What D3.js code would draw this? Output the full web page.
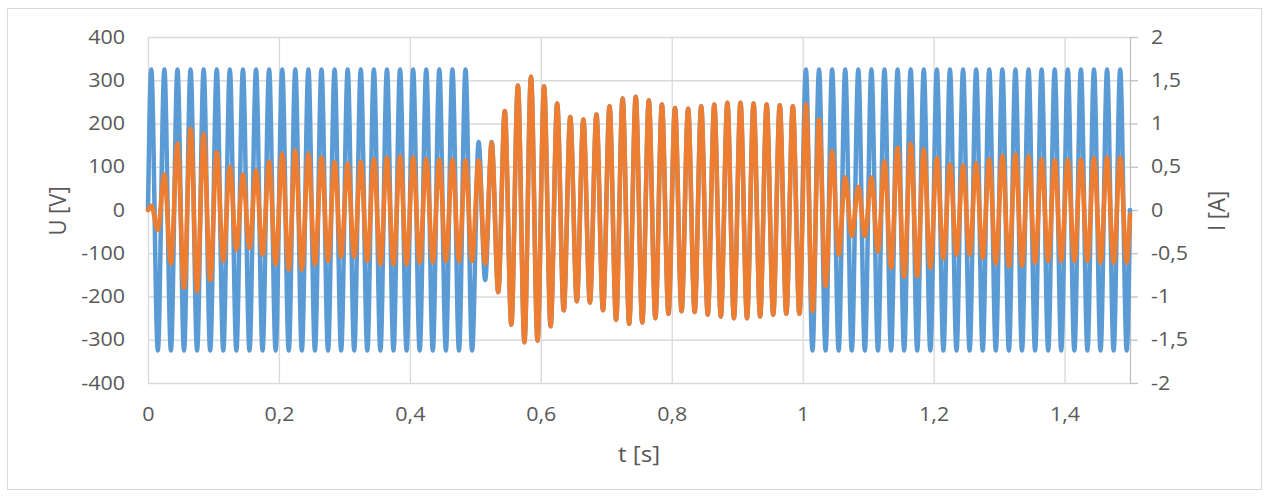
<!DOCTYPE html>
<html>
<head>
<meta charset="utf-8">
<script src="https://cdn.jsdelivr.net/npm/d3@7"></script>
<style>
  body { margin: 0; background: #ffffff; }
  text { font-family: "Open Sans", sans-serif; fill: #595959; }
</style>
</head>
<body>
<svg id="chart" width="1267" height="497"></svg>
<script>
// Axis ticks
const voltageTicks = [-400, -300, -200, -100, 0, 100, 200, 300, 400];
const currentTicks = [-2, -1.5, -1, -0.5, 0, 0.5, 1, 1.5, 2];
const timeTicks = [0, 0.2, 0.4, 0.6, 0.8, 1, 1.2, 1.4];

// Recorded waveforms: one extreme per half cycle of the 50 Hz supply,
// the first at 5 ms and then every 10 ms, plus the start and end samples.
const extremeStart = 0.005;
const extremeStep = 0.01;
const recordStart = 0;
const recordEnd = 1.5;

// Voltage U [V] at each extreme
const voltagePeaks = [
  325, -325, 325, -325, 325, -325, 325, -325, 325, -325,
  325, -325, 325, -325, 325, -325, 325, -325, 325, -325,
  325, -325, 325, -325, 325, -325, 325, -325, 325, -325,
  325, -325, 325, -325, 325, -325, 325, -325, 325, -325,
  325, -325, 325, -325, 325, -325, 325, -325, 325, -325,
  157, -162, 157, -190, 229, -265, 288, -306, 308, -302,
  286, -269, 246, -232, 215, -211, 209, -214, 221, -232,
  240, -254, 258, -263, 262, -260, 254, -250, 244, -240,
  236, -234, 234, -236, 240, -242, 244, -246, 248, -250,
  248, -250, 246, -246, 244, -242, 242, -240, 240, -240,
  325, -325, 325, -325, 325, -325, 325, -325, 325, -325,
  325, -325, 325, -325, 325, -325, 325, -325, 325, -325,
  325, -325, 325, -325, 325, -325, 325, -325, 325, -325,
  325, -325, 325, -325, 325, -325, 325, -325, 325, -325,
  325, -325, 325, -325, 325, -325, 325, -325, 325, -325
];
const voltageEnds = [0, 0];

// Current I [A] at each extreme
const currentPeaks = [
  0.05, -0.23, 0.41, -0.62, 0.77, -0.90, 0.94, -0.94, 0.875, -0.81,
  0.67, -0.59, 0.50, -0.46, 0.41, -0.44, 0.46, -0.52, 0.56, -0.63,
  0.65, -0.69, 0.69, -0.69, 0.65, -0.63, 0.61, -0.59, 0.555, -0.54,
  0.54, -0.54, 0.56, -0.59, 0.59, -0.63, 0.61, -0.63, 0.62, -0.63,
  0.61, -0.61, 0.59, -0.605, 0.585, -0.59, 0.585, -0.59, 0.575, -0.59,
  0.575, -0.62, 0.775, -0.95, 1.145, -1.325, 1.44, -1.53, 1.54, -1.51,
  1.43, -1.345, 1.23, -1.16, 1.075, -1.055, 1.045, -1.07, 1.105, -1.16,
  1.20, -1.27, 1.29, -1.315, 1.31, -1.30, 1.27, -1.25, 1.22, -1.20,
  1.18, -1.17, 1.17, -1.18, 1.20, -1.21, 1.22, -1.23, 1.24, -1.25,
  1.24, -1.25, 1.23, -1.23, 1.22, -1.21, 1.21, -1.20, 1.20, -1.20,
  1.22, -1.17, 1.045, -0.88, 0.68, -0.52, 0.375, -0.30, 0.265, -0.30,
  0.375, -0.48, 0.565, -0.67, 0.72, -0.77, 0.765, -0.765, 0.70, -0.67,
  0.605, -0.56, 0.53, -0.52, 0.515, -0.52, 0.54, -0.555, 0.59, -0.62,
  0.63, -0.65, 0.645, -0.645, 0.625, -0.61, 0.59, -0.59, 0.575, -0.59,
  0.58, -0.59, 0.585, -0.59, 0.60, -0.61, 0.61, -0.61, 0.61, -0.61
];
const currentEnds = [0, -0.05];

// Decimal comma, plain hyphen minus
const locale = d3.formatLocale({
  decimal: ",", thousands: ".", grouping: [3], currency: ["", ""], minus: "-"
});
const fmt = locale.format("~g");

const svg = d3.select("#chart");
const plot = { left: 148, right: 1130, top: 37, bottom: 383 };
const widen = 1.1; // slightly broad lettering

const x = d3.scaleLinear().domain([0, 1.5]).range([plot.left, plot.right]);
const yU = d3.scaleLinear().domain([-400, 400]).range([plot.bottom, plot.top]);
const yI = d3.scaleLinear().domain([-2, 2]).range([plot.bottom, plot.top]);

function styleLabels(g) {
  g.selectAll("text").each(function () {
    const t = d3.select(this);
    const x0 = +t.attr("x") || 0;
    t.attr("x", x0 / widen)
      .attr("transform", `scale(${widen},1)`)
      .attr("font-size", 19.5)
      .attr("fill", "#595959");
  });
}

// Chart frame
svg.append("rect")
  .attr("x", 7.5).attr("y", 8.5)
  .attr("width", 1254).attr("height", 481)
  .attr("fill", "#ffffff").attr("stroke", "#d9d9d9").attr("stroke-width", 1);

// Horizontal gridlines
svg.append("g")
  .attr("transform", `translate(${plot.left},0)`)
  .call(d3.axisLeft(yU).tickValues(voltageTicks).tickSize(-(plot.right - plot.left)).tickFormat(""))
  .call(g => g.select(".domain").remove())
  .call(g => g.selectAll("line").attr("stroke", "#d9d9d9").attr("stroke-width", 1.3));

// Vertical gridlines
svg.append("g")
  .attr("transform", `translate(0,${plot.bottom})`)
  .call(d3.axisBottom(x).tickValues(timeTicks).tickSize(-(plot.bottom - plot.top)).tickFormat(""))
  .call(g => g.select(".domain").remove())
  .call(g => g.selectAll("line").attr("stroke", "#d9d9d9").attr("stroke-width", 1.3));

// Left axis labels
svg.append("g")
  .attr("transform", `translate(${plot.left},0)`)
  .call(d3.axisLeft(yU).tickValues(voltageTicks).tickSize(0).tickPadding(23).tickFormat(fmt))
  .call(g => g.select(".domain").remove())
  .call(styleLabels);

// Right axis with outward ticks
svg.append("g")
  .attr("transform", `translate(${plot.right},0)`)
  .call(d3.axisRight(yI).tickValues(currentTicks).tickSize(8).tickSizeOuter(0).tickPadding(13).tickFormat(fmt))
  .call(g => g.select(".domain").attr("stroke", "#bfbfbf").attr("stroke-width", 1.3))
  .call(g => g.selectAll("line").attr("stroke", "#bfbfbf").attr("stroke-width", 1.3))
  .call(styleLabels);

// Bottom axis labels
svg.append("g")
  .attr("transform", `translate(0,${plot.bottom})`)
  .call(d3.axisBottom(x).tickValues(timeTicks).tickSize(0).tickPadding(24).tickFormat(fmt))
  .call(g => g.select(".domain").remove())
  .call(styleLabels);

// Series points
function series(peaks, ends) {
  const pts = [{ t: recordStart, v: ends[0] }];
  peaks.forEach((v, i) => pts.push({ t: extremeStart + i * extremeStep, v }));
  pts.push({ t: recordEnd, v: ends[1] });
  return pts;
}
const voltage = series(voltagePeaks, voltageEnds);
const current = series(currentPeaks, currentEnds);

const lineU = d3.line().x(d => x(d.t)).y(d => yU(d.v)).curve(d3.curveMonotoneX);
const lineI = d3.line().x(d => x(d.t)).y(d => yI(d.v)).curve(d3.curveMonotoneX);

svg.append("path")
  .datum(voltage)
  .attr("d", lineU)
  .attr("fill", "none")
  .attr("stroke", "#5b9bd5")
  .attr("stroke-width", 4.5)
  .attr("stroke-linejoin", "round")
  .attr("stroke-linecap", "round");

svg.append("path")
  .datum(current)
  .attr("d", lineI)
  .attr("fill", "none")
  .attr("stroke", "#ed7d31")
  .attr("stroke-width", 4.5)
  .attr("stroke-linejoin", "round")
  .attr("stroke-linecap", "round");

// Axis titles
svg.append("text")
  .attr("transform", `translate(${(plot.left + plot.right) / 2},461.5) scale(${widen},1)`)
  .attr("text-anchor", "middle").attr("font-size", 22)
  .text("t [s]");

svg.append("text")
  .attr("transform", `translate(57.5,211) rotate(-90) scale(1,${widen})`)
  .attr("text-anchor", "middle").attr("dy", "0.36em").attr("font-size", 22)
  .text("U [V]");

svg.append("text")
  .attr("transform", `translate(1216.5,211) rotate(-90) scale(1,${widen})`)
  .attr("text-anchor", "middle").attr("dy", "0.36em").attr("font-size", 22)
  .text("I [A]");
</script>
</body>
</html>
